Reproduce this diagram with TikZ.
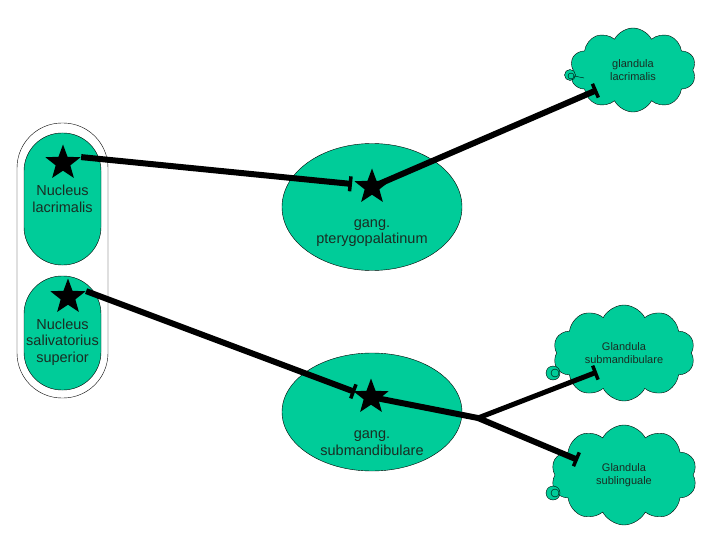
\documentclass[tikz,border=0pt]{standalone}
\usepackage{fontspec}
\setmainfont{Liberation Sans}
\usetikzlibrary{positioning,arrows.meta,shapes.geometric,shapes.symbols}
\definecolor{mint}{RGB}{0,204,153}
\definecolor{ink}{RGB}{25,45,35}

\begin{document}
\begin{tikzpicture}[x=1pt,y=-1pt,
    nuc/.style={draw,fill=mint,rounded corners=38pt,minimum width=77pt,inner sep=0pt},
    gang/.style={draw,fill=mint,ellipse,minimum width=180pt,inner sep=0pt},
    lbl/.style={align=center,text=ink,font=\fontsize{14.5}{16.5}\selectfont},
    gl/.style={draw,fill=mint,cloud,cloud puffs=10,cloud puff arc=125,cloud ignores aspect,align=center,text=ink,font=\fontsize{11}{13}\selectfont,inner sep=0pt},
    hub/.style={star,star points=5,star point ratio=2.4,fill=black,minimum size=37pt,inner sep=0pt},
    syn/.style={circle,draw,fill=mint,inner sep=0pt},
    nerve/.style={line width=6pt,-{Bar[width=15pt,line width=3.5pt]}}]
  \useasboundingbox (0,0) rectangle (720,540);
  % nuclei
  \node[draw,rounded corners=45pt,minimum width=91pt,minimum height=275pt] (brain) at (62.5,260.5) {};
  \node[nuc,minimum height=132pt] (nl) at (62.5,199) {};
  \node[lbl] (nlt) at (62.5,199) {Nucleus\\lacrimalis};
  \node[nuc,minimum height=114pt] (nss) at (62.5,333) {};
  \node[lbl] (nsst) at (62.5,342) {Nucleus\\salivatorius\\superior};
  % ganglia
  \node[gang,minimum height=127pt] (gp) at (372,207) {};
  \node[lbl] (gpt) at (372,233) {gang.\\pterygopalatinum};
  \node[gang,minimum height=118pt] (gs) at (372,412) {};
  \node[lbl] (gst) at (372,443) {gang.\\submandibulare};
  % glands
  \node[gl,minimum width=126pt,minimum height=84pt] (cl) at (633,70) {glandula\\lacrimalis};
  \node[gl,minimum width=142pt,minimum height=96pt] (cs) at (624,353) {Glandula\\submandibulare};
  \node[gl,minimum width=146pt,minimum height=100pt] (cu) at (624,475) {Glandula\\sublinguale};
  \node[syn,minimum size=11pt] (yl) at (570,75) {};
  \node[syn,minimum size=6pt] (yl2) at (571,76) {};
  \draw (yl2.east) -- ++(10,2);
  \node[syn,minimum size=14pt] (ys) at (553,373) {};
  \node[syn,minimum size=8pt] (ys2) at (555,373) {};
  \node[syn,minimum size=14pt] (yu) at (553,493) {};
  \node[syn,minimum size=8pt] (yu2) at (555,493) {};
  % stars
  \node[hub] (s1) at (63,163) {};
  \node[hub] (s2) at (68,297) {};
  \node[hub] (sp) at (372,187) {};
  \node[hub] (sm) at (371,397) {};
  % nerve ends
  \coordinate (tp) at (352,184);
  \coordinate (tl) at (597,90);
  \coordinate (tm) at (355,392);
  \coordinate (j) at (478,418);
  \coordinate (ts) at (597,372);
  \coordinate (tu) at (578,460);
  \draw[nerve] (s1.outer point 5) -- (tp);
  \draw[nerve] (sp.center) -- (tl);
  \draw[nerve] (s2.outer point 5) -- (tm);
  \draw[nerve] (sm.center) -- (j) -- (tu);
  \draw[nerve,line width=5pt] (j) -- (ts);
\end{tikzpicture}
\end{document}
